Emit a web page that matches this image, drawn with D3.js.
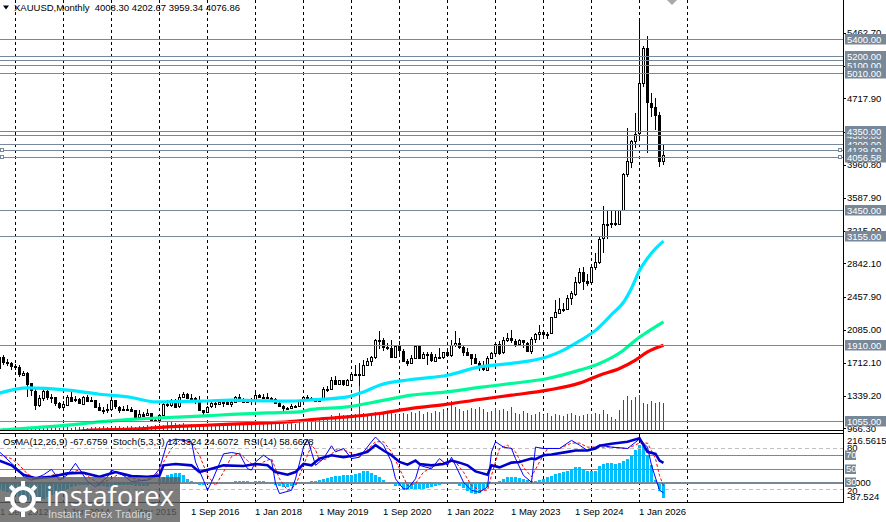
<!DOCTYPE html>
<html>
<head>
<meta charset="utf-8">
<script src="https://cdn.jsdelivr.net/npm/d3@7"></script>
<style>
  body { margin: 0; background: #fff; }
  svg { display: block; font-family: "Liberation Sans", Arial, sans-serif; font-size: 9.5px; }
</style>
</head>
<body>
<svg id="chart" width="886" height="522"></svg>
<script>
// monthly XAUUSD bars, Sep 2012 .. Jul 2026
const opens = [
  1648, 1772, 1719, 1712,
  1675, 1663, 1578, 1597, 1476, 1393, 1234, 1313, 1396, 1327, 1323, 1253,
  1202, 1240, 1326, 1284, 1296, 1250, 1327, 1282, 1287, 1210, 1172, 1167,
  1184, 1283, 1213, 1183, 1184, 1190, 1172, 1095, 1133, 1115, 1142, 1065,
  1061, 1118, 1238, 1233, 1293, 1215, 1322, 1351, 1309, 1316, 1277, 1173,
  1152, 1211, 1249, 1249, 1268, 1269, 1242, 1269, 1322, 1280, 1271, 1275,
  1303, 1345, 1318, 1325, 1315, 1299, 1253, 1224, 1201, 1192, 1215, 1222,
  1282, 1321, 1313, 1292, 1284, 1305, 1409, 1413, 1520, 1472, 1513, 1464,
  1517, 1589, 1585, 1577, 1686, 1730, 1781, 1975, 1968, 1886, 1879, 1776,
  1898, 1847, 1734, 1708, 1769, 1906, 1770, 1814, 1813, 1743, 1783, 1774,
  1829, 1797, 1909, 1937, 1896, 1837, 1807, 1766, 1711, 1660, 1633, 1768,
  1824, 1928, 1827, 1969, 1990, 1963, 1919, 1965, 1940, 1849, 1983, 2036,
  2063, 2039, 2044, 2230, 2286, 2327, 2326, 2447, 2503, 2634, 2744, 2643,
  2625, 2798, 2858, 3124, 3288, 3289, 3303, 3290, 3448, 3858, 4003, 4239,
  4319, 4890, 5288, 4670, 4624, 4530, 4008.30
];
const highs = [
  1790, 1796, 1754, 1723,
  1694, 1684, 1617, 1605, 1487, 1424, 1348, 1434, 1434, 1361, 1324, 1267,
  1280, 1345, 1392, 1331, 1315, 1332, 1345, 1322, 1290, 1255, 1208, 1238,
  1308, 1284, 1224, 1224, 1232, 1205, 1175, 1170, 1157, 1191, 1142, 1088,
  1123, 1263, 1283, 1304, 1303, 1362, 1375, 1367, 1352, 1326, 1338, 1180,
  1220, 1264, 1262, 1296, 1273, 1296, 1272, 1331, 1357, 1306, 1299, 1308,
  1366, 1362, 1356, 1366, 1326, 1309, 1266, 1232, 1214, 1243, 1237, 1284,
  1326, 1346, 1324, 1310, 1306, 1439, 1453, 1555, 1557, 1517, 1516, 1525,
  1611, 1689, 1704, 1748, 1765, 1789, 1984, 2075, 1992, 1933, 1965, 1907,
  1959, 1872, 1755, 1798, 1913, 1916, 1833, 1832, 1834, 1814, 1877, 1831,
  1853, 1974, 2070, 1998, 1910, 1879, 1814, 1808, 1735, 1730, 1786, 1833,
  1949, 1959, 2009, 2049, 2079, 1983, 1987, 1966, 1953, 2009, 2052, 2146,
  2088, 2065, 2236, 2431, 2450, 2388, 2483, 2531, 2685, 2790, 2801, 2726,
  2817, 2956, 3148, 3500, 3435, 3452, 3439, 3454, 3870, 4381, 4245, 4550,
  5598, 5310, 5428, 4777, 4720, 4560, 4202.67
];
const lows = [
  1638, 1692, 1672, 1635,
  1626, 1555, 1562, 1321, 1338, 1180, 1207, 1272, 1292, 1251, 1221, 1187,
  1202, 1238, 1277, 1268, 1240, 1240, 1280, 1272, 1205, 1161, 1131, 1142,
  1167, 1191, 1142, 1170, 1170, 1162, 1077, 1080, 1098, 1110, 1052, 1046,
  1061, 1108, 1208, 1207, 1199, 1200, 1310, 1301, 1302, 1241, 1171, 1122,
  1146, 1200, 1194, 1244, 1214, 1236, 1204, 1265, 1277, 1261, 1264, 1236,
  1302, 1307, 1303, 1301, 1281, 1246, 1211, 1160, 1180, 1182, 1196, 1221,
  1276, 1310, 1280, 1266, 1266, 1301, 1381, 1400, 1459, 1459, 1445, 1454,
  1517, 1563, 1451, 1567, 1670, 1671, 1757, 1863, 1849, 1860, 1765, 1775,
  1802, 1717, 1677, 1705, 1765, 1750, 1751, 1687, 1721, 1746, 1759, 1753,
  1780, 1781, 1890, 1872, 1787, 1805, 1681, 1709, 1615, 1617, 1616, 1765,
  1822, 1804, 1810, 1950, 1932, 1893, 1902, 1884, 1846, 1810, 1931, 1973,
  2001, 1984, 2039, 2228, 2277, 2286, 2319, 2364, 2471, 2604, 2536, 2583,
  2614, 2772, 2833, 2957, 3121, 3247, 3268, 3282, 3436, 3827, 3929, 4160,
  4274, 4850, 4100, 4510, 4359, 3941, 3959.34
];
const closes = [
  1772, 1719, 1712, 1675,
  1663, 1578, 1597, 1476, 1393, 1234, 1313, 1396, 1327, 1323, 1253, 1202,
  1240, 1326, 1284, 1296, 1250, 1327, 1282, 1287, 1210, 1172, 1167, 1184,
  1283, 1213, 1183, 1184, 1190, 1172, 1095, 1133, 1115, 1142, 1065, 1061,
  1118, 1238, 1233, 1293, 1215, 1322, 1351, 1309, 1316, 1277, 1173, 1152,
  1211, 1249, 1249, 1268, 1269, 1242, 1269, 1322, 1280, 1271, 1275, 1303,
  1345, 1318, 1325, 1315, 1299, 1253, 1224, 1201, 1192, 1215, 1222, 1282,
  1321, 1313, 1292, 1284, 1305, 1409, 1413, 1520, 1472, 1513, 1464, 1517,
  1589, 1585, 1577, 1686, 1730, 1781, 1975, 1968, 1886, 1879, 1776, 1898,
  1847, 1734, 1708, 1769, 1906, 1770, 1814, 1813, 1743, 1783, 1774, 1829,
  1797, 1909, 1937, 1896, 1837, 1807, 1766, 1711, 1660, 1633, 1768, 1824,
  1928, 1827, 1969, 1990, 1963, 1919, 1965, 1940, 1849, 1983, 2036, 2063,
  2039, 2044, 2230, 2286, 2327, 2326, 2447, 2503, 2634, 2744, 2643, 2625,
  2798, 2858, 3124, 3288, 3289, 3303, 3290, 3448, 3858, 4003, 4239, 4319,
  4890, 5288, 4670, 4624, 4530, 4009, 4076.86
];
// tick volume, thousands
const volumes = [
  3, 3, 2, 3, 3, 3, 3, 4, 3, 4,
  4, 3, 3, 3, 4, 3, 4, 4, 3, 4,
  4, 4, 3, 4, 4, 4, 5, 4, 4, 5,
  5, 4, 5, 5, 4, 5, 5, 6, 5, 6,
  7, 6, 9, 10, 8, 7, 8, 6, 7, 6,
  6, 5, 6, 6, 5, 7, 6, 6, 7, 6,
  6, 7, 6, 7, 8, 6, 7, 7, 8, 7,
  8, 7, 7, 8, 7, 9, 10, 12, 13, 11,
  12, 14, 13, 16, 15, 18, 16, 16, 15, 17,
  53, 18, 17, 16, 19, 18, 17, 20, 18, 17,
  16, 18, 17, 19, 18, 20, 17, 19, 18, 20,
  19, 22, 21, 30, 24, 22, 20, 21, 23, 22,
  24, 22, 19, 20, 23, 21, 22, 20, 24, 18,
  17, 20, 18, 16, 17, 19, 16, 18, 15, 17,
  16, 15, 17, 18, 16, 15, 15.5, 17, 17, 18,
  17, 21, 17, 14, 12, 21, 30.5, 34.5, 30.5, 34,
  35.5, 28, 26.5, 29.5, 28, 29, 28
];
// moving averages, [bar index, price]
const maAqua = [[0,1366],[7,1426],[17,1400],[25,1354],[33,1317],[39,1267],[50,1275],[58,1286],[67,1278],[72,1275],[78,1290],[87,1324],[91,1380],[95,1457],[103,1521],[112,1570],[120,1665],[128,1704],[137,1779],[141,1855],[145,1960],[149,2080],[153,2260],[156,2400],[158,2560],[160,2760],[162,2900],[164,3010],[166,3095]];
const maGreen = [[0,945],[8,971],[17,1002],[25,1039],[33,1067],[42,1089],[50,1104],[58,1124],[67,1142],[75,1153],[78,1181],[87,1210],[95,1275],[103,1343],[112,1381],[120,1431],[128,1476],[137,1533],[145,1628],[150,1704],[156,1855],[159,1969],[162,2063],[166,2177]];
const maRed = [[15,905],[23,945],[33,956],[42,982],[50,998],[58,1013],[67,1028],[72,1039],[78,1066],[87,1096],[95,1135],[103,1192],[112,1241],[120,1294],[128,1343],[137,1400],[145,1480],[150,1571],[155,1647],[159,1742],[162,1836],[166,1912]];

// OsMA(12,26,9) histogram
const osma = [
  -30, -35, -42, -50, -55, -62, -70, -78, -84, -87.5,
  -80, -70, -62, -55, -50, -44, -36, -26, -20, -14,
  -10, -8, -7, -6, -8, -12, -15, -16, -12, -12,
  -10, -9, -9, -10, -14, -12, -14, -12, -6, 2,
  18, 27, 35, 39, 44, 44, 35, 19, 8, -5,
  -9, -8, -6, -4, -2, 1, 3, 4, 6, 7,
  9, 9, 8, 5, 8, 9, 8, 4, -2, -8,
  -14, -18, -16, -14, -10, -6, -2, 3, 8, 10,
  15, 19, 24, 27, 30, 30, 35, 35, 37, 42,
  46, 53, 53, 46, 37, 25, 12, 2, -6, -12,
  -15, -30, -28, -28, -25, -25, -25, -22, -18, -14,
  -8, -4, -2, 2, -4, -12, -22, -35, -45, -50,
  -45, -32, -18, -6, 2, 9, 20, 25, 27, 25,
  22, 20, 15, 10, 10, 12, 18, 25, 33, 40,
  45, 50, 55, 62, 72, 72, 60, 55, 55, 55,
  75, 85, 88, 88, 85, 90, 100, 110, 125, 150,
  172, 165, 120, 80, 15, -35, -67.68
];
// Stoch(5,3,3) main / signal and RSI(14), [bar index, value]
const stochMain = [[0,75],[3,58],[4,53],[6,38],[8,33],[11,41],[13,49],[15,33],[17,41],[19,58],[22,31],[24,23],[27,38],[28,48],[31,40],[33,31],[37,33],[38,35],[40,50],[42,90],[44,94],[48,90],[49,60],[51,33],[52,18],[53,30],[56,72],[58,74],[60,72],[62,50],[63,48],[64,60],[66,70],[68,62],[69,28],[70,13],[73,18],[74,35],[76,82],[77,94],[78,75],[79,55],[81,65],[83,84],[84,75],[86,80],[88,65],[90,67],[93,90],[94,97],[96,85],[98,60],[99,35],[101,20],[102,20],[104,35],[105,55],[108,50],[110,65],[112,55],[113,67],[114,55],[116,30],[118,18],[120,15],[122,23],[123,75],[124,90],[126,82],[128,80],[129,65],[131,40],[133,30],[134,82],[136,80],[140,80],[143,92],[145,85],[147,77],[150,85],[153,82],[157,80],[160,94],[162,82],[163,55],[165,18],[166,14.33]];
const stochSignal = [[0,70],[3,65],[5,55],[7,42],[9,36],[12,38],[14,42],[16,40],[18,45],[20,48],[23,35],[25,28],[28,35],[30,43],[33,36],[36,33],[39,38],[41,60],[43,80],[45,92],[48,88],[50,70],[52,40],[54,25],[56,45],[58,68],[60,73],[62,62],[64,53],[66,60],[68,65],[70,35],[72,18],[74,25],[76,55],[78,85],[79,78],[80,62],[82,65],[84,78],[86,78],[88,73],[90,68],[92,78],[94,90],[96,90],[98,75],[100,50],[102,25],[104,28],[106,45],[108,52],[110,58],[112,60],[114,60],[116,45],[118,25],[120,18],[122,18],[123,40],[125,80],[127,85],[129,75],[131,52],[133,38],[135,60],[137,80],[140,80],[143,88],[145,88],[147,82],[150,82],[153,82],[157,80],[160,88],[162,88],[164,65],[165,40],[166,24.61]];
const rsi = [[0,62],[3,55],[6,41],[9,36],[13,38],[17,43],[21,44],[25,38],[29,45],[33,39],[37,38],[40,40],[41,55],[44,57],[48,55],[50,45],[53,50],[56,55],[61,54],[64,57],[67,55],[69,45],[72,41],[74,45],[76,57],[78,55],[80,65],[83,70],[86,67],[89,70],[92,75],[94,85],[96,77],[98,70],[100,60],[102,56],[104,62],[105,57],[108,55],[111,57],[113,62],[115,59],[117,55],[119,46],[122,41],[123,55],[125,52],[128,59],[130,60],[133,65],[134,64],[136,70],[138,71],[142,75],[144,77],[147,77],[149,80],[150,84],[153,87],[157,90],[160,95],[162,75],[164,72],[165,62],[166,58.66]];

const levelPrices = [5150, 5200, 5100, 5010, 5400, 4300, 4350, 4200, 4129, 4056.58, 3450, 3155, 1910, 1055];
const markedLevels = [4129, 4056.58];
const priceTicks = [5462.70, 5089.80, 4717.90, 4339.40, 3960.80, 3587.90, 3215.00, 2842.10, 2457.90, 2085.00, 1712.10, 1339.20, 966.30];
const dateLabels = ["1 Sep 2012", "1 Jan 2014", "1 May 2015", "1 Sep 2016", "1 Jan 2018", "1 May 2019", "1 Sep 2020", "1 Jan 2022", "1 May 2023", "1 Sep 2024", "1 Jan 2026"];
const oscLevels = [80, 70, 50, 30, 20];

const titleText = "XAUUSD,Monthly  4008.30 4202.67 3959.34 4076.86";
const subTitle = "OsMA(12,26,9) -67.6759  Stoch(5,3,3) 14.3324 24.6072  RSI(14) 58.6628";

const plotRight = 843;
const slate = "#778899";

const start = new Date(2012, 8, 1);
const months = d3.timeMonth.range(start, new Date(2026, 7, 1));
const bars = months.map((d, i) => ({ i, date: d, o: opens[i], h: highs[i], l: lows[i], c: closes[i], v: volumes[i], osma: osma[i] }));

const x = d3.scaleLinear().domain([0, 160]).range([-1, 639]);
const y = d3.scaleLinear().domain([966.3, 5462.7]).range([428.3, 33]);
const yVol = d3.scaleLinear().domain([0, 100]).range([430.5, 330.5]);
const yOsc = d3.scaleLinear().domain([0, 100]).range([502.4, 435]);
const yOsma = d3.scaleLinear().domain([-87.524, 216.5615]).range([502.4, 435]);
const parseDate = d3.timeParse("%e %b %Y");
const monthIndex = (d) => d3.timeMonth.count(start, d);

const svg = d3.select("#chart");
const defs = svg.append("defs");
defs.append("clipPath").attr("id", "clipMain")
  .append("rect").attr("x", 0).attr("y", 0).attr("width", plotRight).attr("height", 430);
defs.append("clipPath").attr("id", "clipSub")
  .append("rect").attr("x", 0).attr("y", 434).attr("width", plotRight).attr("height", 68);

// yearly grid
const gridMonths = d3.timeYear.range(new Date(2013, 0, 1), new Date(2027, 0, 2));
const grid = svg.append("g").attr("stroke", "#000").attr("stroke-dasharray", "3,3").attr("shape-rendering", "crispEdges");
gridMonths.forEach(d => {
  const gx = Math.round(x(monthIndex(d))) + 0.5;
  grid.append("line").attr("x1", gx).attr("x2", gx).attr("y1", 0).attr("y2", 430);
  grid.append("line").attr("x1", gx).attr("x2", gx).attr("y1", 434).attr("y2", 502);
});

const main = svg.append("g").attr("clip-path", "url(#clipMain)");

// volumes
main.append("g").attr("shape-rendering", "crispEdges")
  .selectAll("line").data(bars).join("line")
  .attr("x1", d => x(d.i) + 0.5).attr("x2", d => x(d.i) + 0.5)
  .attr("y1", yVol(0)).attr("y2", d => yVol(d.v))
  .attr("stroke", "#008000");

// candles
const candles = main.append("g").attr("shape-rendering", "crispEdges");
candles.selectAll("line").data(bars).join("line")
  .attr("x1", d => x(d.i) + 0.5).attr("x2", d => x(d.i) + 0.5)
  .attr("y1", d => Math.round(y(d.h))).attr("y2", d => Math.round(y(d.l)))
  .attr("stroke", "#000");
candles.selectAll("rect").data(bars).join("rect")
  .attr("x", d => x(d.i) - 0.5)
  .attr("y", d => Math.round(Math.min(y(d.o), y(d.c))) + 0.5)
  .attr("width", 2)
  .attr("height", d => Math.max(1, Math.round(Math.abs(y(d.o) - y(d.c)))))
  .attr("fill", d => d.c >= d.o ? "#fff" : "#000")
  .attr("stroke", "#000");

// moving averages
const maLine = d3.line().x(d => x(d[0]) + 0.5).y(d => y(d[1])).curve(d3.curveMonotoneX);
[[maRed, "#ff0000"], [maGreen, "#00fa9a"], [maAqua, "#00e8ff"]].forEach(([pts, col]) => {
  main.append("path").datum(pts).attr("d", maLine)
    .attr("fill", "none").attr("stroke", col).attr("stroke-width", 3.2);
});

// horizontal levels
const lv = svg.append("g").attr("shape-rendering", "crispEdges");
levelPrices.forEach(p => {
  const ly = Math.round(y(p)) + 0.5;
  lv.append("line").attr("x1", 0).attr("x2", plotRight).attr("y1", ly).attr("y2", ly)
    .attr("stroke", slate);
});
markedLevels.forEach(p => {
  const ly = Math.round(y(p));
  [0.5, 838.5].forEach(sx => {
    lv.append("rect").attr("x", sx).attr("y", ly - 1.5).attr("width", 3).attr("height", 3)
      .attr("fill", "#fff").attr("stroke", slate);
  });
});

// frames
const frame = svg.append("g").attr("stroke", "#000").attr("shape-rendering", "crispEdges");
frame.append("line").attr("x1", plotRight + 0.5).attr("x2", plotRight + 0.5).attr("y1", 0).attr("y2", 503);
frame.append("line").attr("x1", 0).attr("x2", plotRight).attr("y1", 430.5).attr("y2", 430.5);
frame.append("line").attr("x1", 0).attr("x2", plotRight).attr("y1", 433.5).attr("y2", 433.5);
frame.append("line").attr("x1", 0).attr("x2", plotRight).attr("y1", 502.5).attr("y2", 502.5);

// price axis labels
const axisG = svg.append("g");
priceTicks.forEach(p => {
  const ty = y(p);
  axisG.append("line").attr("x1", plotRight).attr("x2", plotRight + 3)
    .attr("y1", Math.round(ty) + 0.5).attr("y2", Math.round(ty) + 0.5)
    .attr("stroke", "#000").attr("shape-rendering", "crispEdges");
  axisG.append("text").attr("x", 847).attr("y", ty).attr("dy", "0.35em")
    .text(p.toFixed(2));
});
levelPrices.forEach(p => {
  const ty = Math.round(y(p));
  axisG.append("rect").attr("x", 845).attr("y", ty - 5).attr("width", 41).attr("height", 10.5)
    .attr("fill", slate);
  axisG.append("text").attr("x", 847).attr("y", ty).attr("dy", "0.38em")
    .attr("fill", "#fff").text(p.toFixed(2));
});

// title
svg.append("path").attr("d", "M3,5.5 L9,5.5 L6,9.5 Z").attr("fill", "#000");
svg.append("text").attr("x", 14).attr("y", 11).style("white-space", "pre").text(titleText);
svg.append("path").attr("d", "M667,0 L677,0 L672,5 Z").attr("fill", "#a8a8a8");

// sub window
const sub = svg.append("g").attr("clip-path", "url(#clipSub)");
sub.append("g").attr("shape-rendering", "crispEdges")
  .selectAll("rect").data(bars).join("rect")
  .attr("x", d => x(d.i) - 1)
  .attr("width", 3)
  .attr("y", d => Math.min(yOsma(0), yOsma(d.osma)))
  .attr("height", d => Math.abs(yOsma(d.osma) - yOsma(0)))
  .attr("fill", "#00bfff");

oscLevels.forEach(v => {
  const ly = Math.round(yOsc(v)) + 0.5;
  const dashed = v === 80 || v === 20;
  sub.append("line").attr("x1", 0).attr("x2", plotRight).attr("y1", ly).attr("y2", ly)
    .attr("stroke", dashed ? "#c0c0c0" : slate)
    .attr("stroke-width", v === 30 ? 2 : 1)
    .attr("stroke-dasharray", dashed ? "4,3" : null)
    .attr("shape-rendering", "crispEdges");
});

const oscLine = d3.line().x(d => x(d[0]) + 0.5).y(d => yOsc(d[1]));
sub.append("path").datum(stochSignal).attr("d", oscLine)
  .attr("fill", "none").attr("stroke", "#ff0000").attr("stroke-dasharray", "3,2");
sub.append("path").datum(stochMain).attr("d", oscLine)
  .attr("fill", "none").attr("stroke", "#0000ff");
sub.append("path").datum(rsi).attr("d", oscLine)
  .attr("fill", "none").attr("stroke", "#0000cd").attr("stroke-width", 2.6);

svg.append("text").attr("x", 3).attr("y", 445).style("white-space", "pre").text(subTitle);

// sub window axis
const subAxis = svg.append("g");
subAxis.append("text").attr("x", 847).attr("y", yOsma(216.5615) + 6).attr("dy", "0.35em").text("216.5615");
subAxis.append("text").attr("x", 847).attr("y", yOsma(-87.524) - 6).attr("dy", "0.35em").text("-87.524");
subAxis.append("text").attr("x", 847).attr("y", yOsma(0)).attr("dy", "0.35em").text("0.000");
[80, 20].forEach(v => {
  subAxis.append("text").attr("x", 847).attr("y", yOsc(v) + (v === 80 ? -1 : 1.5)).attr("dy", "0.35em").text(v);
});
[70, 50, 30].forEach(v => {
  const ty = Math.round(yOsc(v));
  subAxis.append("rect").attr("x", 845).attr("y", ty - 4.5).attr("width", 11).attr("height", 9.5).attr("fill", slate);
  subAxis.append("text").attr("x", 846).attr("y", ty).attr("dy", "0.36em").attr("fill", "#fff").text(v);
});

// date axis
dateLabels.forEach(s => {
  const dx = x(monthIndex(parseDate(s)));
  svg.append("text").attr("x", Math.max(dx, 0)).attr("y", 515).text(s);
});

// watermark
const wm = svg.append("g");
wm.append("rect").attr("x", 0).attr("y", 477).attr("width", 180).attr("height", 45)
  .attr("fill", "#5c5c5c").attr("opacity", 0.8);
const logo = wm.append("g").attr("transform", "translate(23,499)").attr("fill", "none").attr("stroke", "#fff");
logo.append("circle").attr("r", 11).attr("stroke-width", 4);
logo.append("circle").attr("r", 4).attr("fill", "#fff").attr("stroke", "none");
d3.range(8).forEach(k => {
  const a = k * Math.PI / 4;
  logo.append("line")
    .attr("x1", Math.cos(a) * 13).attr("y1", Math.sin(a) * 13)
    .attr("x2", Math.cos(a) * 18).attr("y2", Math.sin(a) * 18)
    .attr("stroke-width", 4);
});
wm.append("text").attr("x", 46).attr("y", 506)
  .attr("textLength", 128).attr("lengthAdjust", "spacingAndGlyphs")
  .style("font-family", "'Open Sans', sans-serif").style("font-size", "28px")
  .attr("fill", "#fff").text("instaforex");
wm.append("text").attr("x", 48).attr("y", 518)
  .attr("textLength", 104).attr("lengthAdjust", "spacingAndGlyphs")
  .style("font-size", "10.5px").attr("fill", "#d8d8d8").text("Instant Forex Trading");
</script>
</body>
</html>
